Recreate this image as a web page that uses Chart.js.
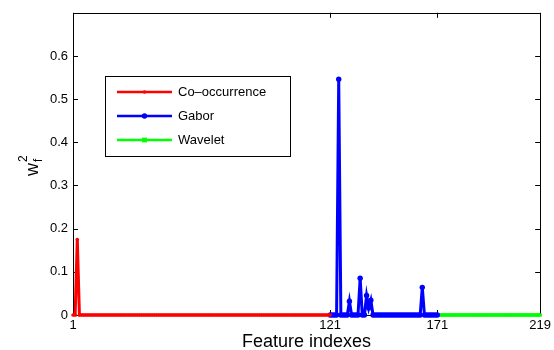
<!DOCTYPE html>
<html><head><meta charset="utf-8">
<script src="https://cdn.jsdelivr.net/npm/chart.js@4"></script>
<style>html,body{margin:0;padding:0;background:#fff}#w{width:554px;height:350px}</style>
</head><body><div id="w"><canvas id="c"></canvas></div>
<script>
// Co-occurrence features 1..121
const coocStart = 1;
const coocValues = [
0,0,0.175,0,0,0,0,0,0,0, 0,0,0,0,0,0,0,0,0,0,
0,0,0,0,0,0,0,0,0,0, 0,0,0,0,0,0,0,0,0,0,
0,0,0,0,0,0,0,0,0,0, 0,0,0,0,0,0,0,0,0,0,
0,0,0,0,0,0,0,0,0,0, 0,0,0,0,0,0,0,0,0,0,
0,0,0,0,0,0,0,0,0,0, 0,0,0,0,0,0,0,0,0,0,
0,0,0,0,0,0,0,0,0,0, 0,0,0,0,0,0,0,0,0,0,
0];
// Gabor features 121..171
const gaborStart = 121;
const gaborValues = [
0,0,0,0,0.546,0,0,0,0,0.032,         // 121-130
0,0,0,0,0.085,0,0,0.045,0.016,0.034, // 131-140
0,0,0,0,0,0,0,0,0,0,                 // 141-150
0,0,0,0,0,0,0,0,0,0,                 // 151-160
0,0,0,0.064,0,0,0,0,0,0,             // 161-170
0];                                  // 171
// Wavelet features 171..219
const waveStart = 171;
const waveValues = [
0,0,0,0,0,0,0,0,0,0, 0,0,0,0,0,0,0,0,0,0,
0,0,0,0,0,0,0,0,0,0, 0,0,0,0,0,0,0,0,0,0,
0,0,0,0,0,0,0,0,0];
const xTicks = [1, 121, 171, 219];
const yTicks = [0, 0.1, 0.2, 0.3, 0.4, 0.5, 0.6];
const seriesNames = ['Co\u2013occurrence', 'Gabor', 'Wavelet'];
const seriesColors = ['#ff0000', '#0000ff', '#00ff00'];

const toPts = (start, vals) => vals.map((v, i) => ({x: start + i, y: v}));
const FONT = '"Liberation Sans", Arial, Helvetica, sans-serif';

const styles = [
  {pointStyle: 'circle', pointRadius: 1.8},
  {pointStyle: 'circle', pointRadius: 2.7},
  {pointStyle: 'rect', pointRadius: 2.4}
];

const datasets = [
  toPts(coocStart, coocValues), toPts(gaborStart, gaborValues), toPts(waveStart, waveValues)
].map((d, i) => ({
  label: seriesNames[i], data: d,
  borderColor: seriesColors[i], backgroundColor: seriesColors[i],
  borderWidth: 3, pointBorderWidth: 0, pointStyle: styles[i].pointStyle,
  pointRadius: styles[i].pointRadius, pointHoverRadius: styles[i].pointRadius,
  tension: 0, clip: false, showLine: true
}));

const boxPlugin = {
  id: 'box',
  beforeDatasetsDraw(chart) {
    const {ctx, chartArea: a, scales: {x, y}} = chart;
    ctx.save();
    ctx.strokeStyle = '#000'; ctx.lineWidth = 1;
    ctx.strokeRect(Math.round(a.left) + 0.5, Math.round(a.top) + 0.5,
      Math.round(a.right - a.left), Math.round(a.bottom - a.top));
    ctx.beginPath();
    xTicks.forEach(t => {
      const px = Math.round(x.getPixelForValue(t)) + 0.5;
      ctx.moveTo(px, a.bottom); ctx.lineTo(px, a.bottom - 5);
      ctx.moveTo(px, a.top); ctx.lineTo(px, a.top + 5);
    });
    yTicks.forEach(t => {
      const py = Math.round(y.getPixelForValue(t)) + 0.5;
      ctx.moveTo(a.left, py); ctx.lineTo(a.left + 5, py);
      ctx.moveTo(a.right, py); ctx.lineTo(a.right - 5, py);
    });
    ctx.stroke();
    ctx.restore();
  },
  afterDraw(chart) {
    const {ctx} = chart;
    ctx.save();
    // legend
    const lx = 105, ly = 76, lw = 185, lh = 80;
    ctx.fillStyle = '#fff';
    ctx.fillRect(lx, ly, lw, lh);
    ctx.strokeStyle = '#000'; ctx.lineWidth = 1;
    ctx.strokeRect(lx + 0.5, ly + 0.5, lw, lh);
    const rows = [92, 116, 140];
    rows.forEach((ry, i) => {
      ctx.strokeStyle = seriesColors[i]; ctx.fillStyle = seriesColors[i];
      ctx.lineWidth = 2.6;
      ctx.beginPath(); ctx.moveTo(117, ry); ctx.lineTo(172, ry); ctx.stroke();
      const r = styles[i].pointRadius;
      if (styles[i].pointStyle === 'rect') ctx.fillRect(144.5 - r, ry - r, 2 * r, 2 * r);
      else { ctx.beginPath(); ctx.arc(144.5, ry, r, 0, Math.PI * 2); ctx.fill(); }
      ctx.fillStyle = '#000';
      ctx.font = '13px ' + FONT;
      ctx.textBaseline = 'middle'; ctx.textAlign = 'left';
      ctx.fillText(seriesNames[i], 178, ry);
    });
    // y label: w_f^2
    ctx.translate(32, 166);
    ctx.rotate(-Math.PI / 2);
    ctx.fillStyle = '#000';
    ctx.textBaseline = 'alphabetic'; ctx.textAlign = 'left';
    ctx.font = '18px ' + FONT;
    ctx.fillText('w', -10, 6);
    ctx.font = '12px ' + FONT;
    ctx.fillText('2', 4, -5);
    ctx.fillText('f', 4, 10);
    ctx.restore();
  }
};

new Chart(document.getElementById('c'), {
  type: 'scatter',
  data: {datasets},
  plugins: [boxPlugin],
  options: {
    responsive: true, maintainAspectRatio: false, animation: false,
    layout: {padding: {top: 8, right: 11, left: 0, bottom: 0}},
    plugins: {legend: {display: false}, tooltip: {enabled: false}},
    scales: {
      x: {
        type: 'linear', min: 1, max: 219,
        afterBuildTicks: s => { s.ticks = xTicks.map(v => ({value: v})); },
        afterFit: s => { s.height = 35; },
        grid: {display: false, drawTicks: false},
        border: {display: false},
        ticks: {color: '#000', font: {size: 13, family: FONT}, padding: 3, maxRotation: 0,
                callback: v => String(v)},
        title: {display: true, text: 'Feature indexes', color: '#000',
                font: {size: 18, family: FONT}, padding: {top: 0, bottom: -3}}
      },
      y: {
        type: 'linear', min: 0, max: 0.7,
        afterBuildTicks: s => { s.ticks = yTicks.map(v => ({value: v})); },
        afterFit: s => { s.width = 73; },
        grid: {display: false, drawTicks: false},
        border: {display: false},
        ticks: {color: '#000', font: {size: 13, family: FONT}, padding: 5,
                callback: v => String(+v.toFixed(1))}
      }
    }
  }
});
</script></body></html>
